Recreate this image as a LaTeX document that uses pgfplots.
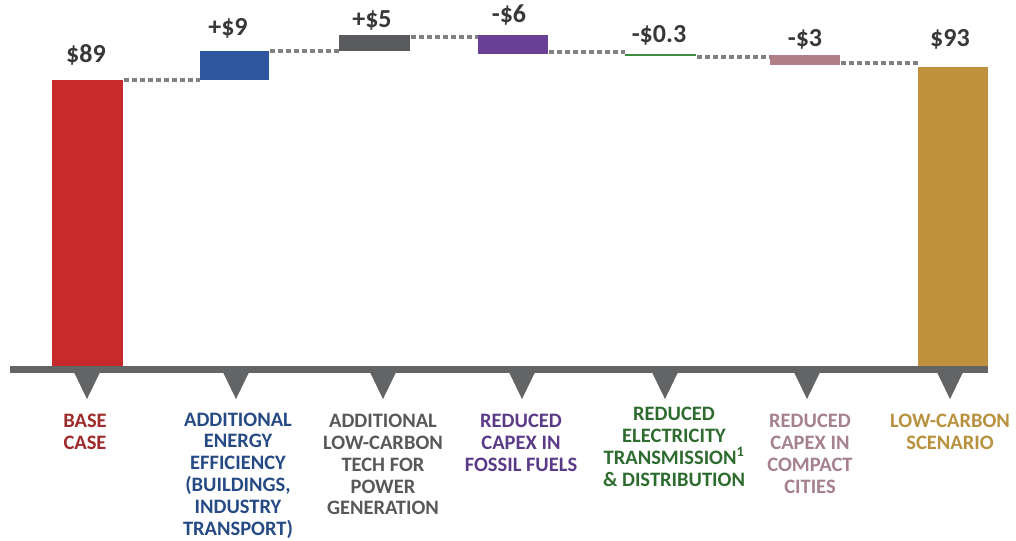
\documentclass[border=0pt]{standalone}
\usepackage{fontspec}
\setmainfont{Carlito}
\usepackage{pgfplots}
\pgfplotsset{compat=1.18}
\definecolor{cbase}{HTML}{C62A2B}
\definecolor{cblue}{HTML}{2E569F}
\definecolor{cgray}{HTML}{5A5B5E}
\definecolor{cpurple}{HTML}{6A3F96}
\definecolor{cgreen}{HTML}{3D8B3D}
\definecolor{cpink}{HTML}{B07E87}
\definecolor{cgold}{HTML}{C0913D}
\definecolor{lbase}{HTML}{9E2A2B}
\definecolor{lblue}{HTML}{254A84}
\definecolor{lgray}{HTML}{58585A}
\definecolor{lpurple}{HTML}{5B3B88}
\definecolor{lgreen}{HTML}{2E6B2E}
\definecolor{lpink}{HTML}{A5808F}
\definecolor{lgold}{HTML}{B8913E}
\definecolor{cline}{HTML}{636466}
\definecolor{cdot}{HTML}{808080}
\definecolor{cval}{HTML}{383838}
\newcommand{\lab}{\fontsize{20.5bp}{21.8bp}\selectfont\bfseries}
\newcommand{\val}{\fontsize{26bp}{28bp}\selectfont\bfseries}
\begin{document}
\begin{tikzpicture}
\begin{axis}[width=1016bp,height=540bp,scale only axis,
  xmin=0,xmax=1016,ymin=-52.46,ymax=113.69,hide axis,clip=false]
% bars: x edges in layout units, y in $ values
\addplot[fill=cbase,draw=none] coordinates {(52,0) (123,0) (123,89) (52,89)};
\addplot[fill=cblue,draw=none] coordinates {(200,89) (269,89) (269,98) (200,98)};
\addplot[fill=cgray,draw=none] coordinates {(339,98) (410,98) (410,103) (339,103)};
\addplot[fill=cpurple,draw=none] coordinates {(478,97) (548,97) (548,103) (478,103)};
\addplot[draw=cgreen,line width=1.6bp] coordinates {(625,96.85) (696,96.85)};
\addplot[fill=cpink,draw=none] coordinates {(770,93.7) (840,93.7) (840,96.7) (770,96.7)};
\addplot[fill=cgold,draw=none] coordinates {(918,0) (988,0) (988,93) (918,93)};
% connectors
\addplot[draw=cdot,line width=4bp,dash pattern=on 5bp off 3bp] coordinates {(124,89) (200,89)};
\addplot[draw=cdot,line width=4bp,dash pattern=on 5bp off 3bp] coordinates {(270,98) (339,98)};
\addplot[draw=cdot,line width=4bp,dash pattern=on 5bp off 3bp] coordinates {(411,102.4) (478,102.4)};
\addplot[draw=cdot,line width=4bp,dash pattern=on 5bp off 3bp] coordinates {(549,97.6) (625,97.6)};
\addplot[draw=cdot,line width=4bp,dash pattern=on 5bp off 3bp] coordinates {(697,96.1) (770,96.1)};
\addplot[draw=cdot,line width=4bp,dash pattern=on 5bp off 3bp] coordinates {(841,94.3) (918,94.3)};
% axis line
\addplot[draw=cline,line width=7bp] coordinates {(10,0) (988,0)};
% category pointers
\addplot[fill=cline,draw=none] coordinates {(73,-0.2) (101,-0.2) (87,-9.1)};
\addplot[fill=cline,draw=none] coordinates {(222,-0.2) (250,-0.2) (236,-9.1)};
\addplot[fill=cline,draw=none] coordinates {(369,-0.2) (397,-0.2) (383,-9.1)};
\addplot[fill=cline,draw=none] coordinates {(508,-0.2) (536,-0.2) (522,-9.1)};
\addplot[fill=cline,draw=none] coordinates {(651,-0.2) (679,-0.2) (665,-9.1)};
\addplot[fill=cline,draw=none] coordinates {(793,-0.2) (821,-0.2) (807,-9.1)};
\addplot[fill=cline,draw=none] coordinates {(936,-0.2) (964,-0.2) (950,-9.1)};
% value labels
\node[anchor=base,inner sep=0,text=cval,font=\val] at (axis cs:86,94.31) {\$89};
\node[anchor=base,inner sep=0,text=cval,font=\val] at (axis cs:228,102.62) {+\$9};
\node[anchor=base,inner sep=0,text=cval,font=\val] at (axis cs:372,105.08) {+\$5};
\node[anchor=base,inner sep=0,text=cval,font=\val] at (axis cs:509,106.62) {-\$6};
\node[anchor=base,inner sep=0,text=cval,font=\val] at (axis cs:659,100.46) {-\$0.3};
\node[anchor=base,inner sep=0,text=cval,font=\val] at (axis cs:805,99.23) {-\$3};
\node[anchor=base,inner sep=0,text=cval,font=\val] at (axis cs:950,99.23) {\$93};
% category labels
\node[anchor=north,inner sep=0,align=center,text=lbase,font=\lab] at (axis cs:85,-13.69) {BASE\\CASE};
\node[anchor=north,inner sep=0,align=center,text=lblue,font=\lab] at (axis cs:238,-13.2) {ADDITIONAL\\ENERGY\\EFFICIENCY\\(BUILDINGS,\\INDUSTRY\\TRANSPORT)};
\node[anchor=north,inner sep=0,align=center,text=lgray,font=\lab] at (axis cs:383,-13.69) {ADDITIONAL\\LOW-CARBON\\TECH FOR\\POWER\\GENERATION};
\node[anchor=north,inner sep=0,align=center,text=lpurple,font=\lab] at (axis cs:521,-13.69) {REDUCED\\CAPEX IN\\FOSSIL FUELS};
\node[anchor=north,inner sep=0,align=center,text=lgreen,font=\lab] at (axis cs:674,-11.54) {REDUCED\\ELECTRICITY\\TRANSMISSION\textsuperscript{1}\\\& DISTRIBUTION};
\node[anchor=north,inner sep=0,align=center,text=lpink,font=\lab] at (axis cs:810,-13.69) {REDUCED\\CAPEX IN\\COMPACT\\CITIES};
\node[anchor=north,inner sep=0,align=center,text=lgold,font=\lab] at (axis cs:950,-13.69) {LOW-CARBON\\SCENARIO};
\end{axis}
\pgfresetboundingbox
\useasboundingbox (current axis.south west) rectangle (current axis.north east);
\end{tikzpicture}
\end{document}
